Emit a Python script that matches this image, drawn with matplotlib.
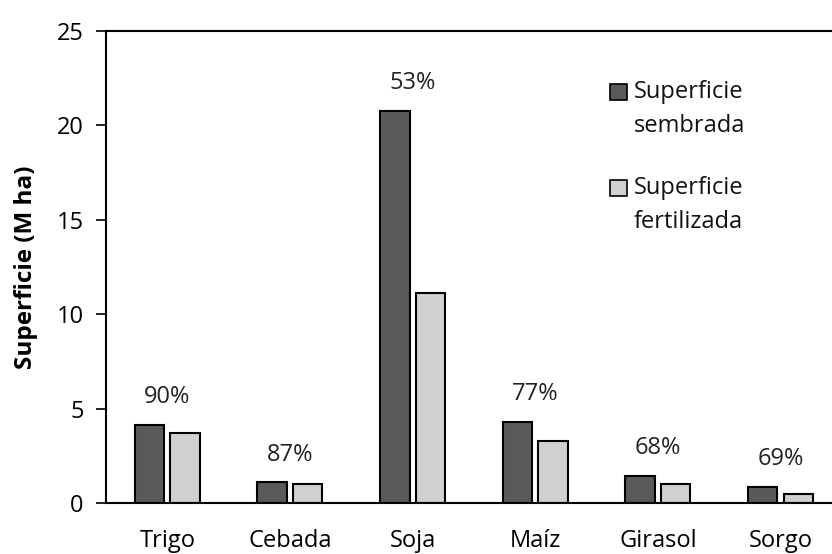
import matplotlib
matplotlib.use("Agg")
import matplotlib.pyplot as plt
from matplotlib.patches import Rectangle
import numpy as np

plt.rcParams['font.family'] = ['Open Sans', 'DejaVu Sans']

cultivos = ["Trigo", "Cebada", "Soja", "Maíz", "Girasol", "Sorgo"]
sembrada = [4.13, 1.09, 20.75, 4.29, 1.43, 0.86]
fertilizada = [3.72, 1.02, 11.1, 3.28, 1.0, 0.49]
porcentajes = ["90%", "87%", "53%", "77%", "68%", "69%"]
series = ["Superficie\nsembrada", "Superficie\nfertilizada"]
colores = ["#595959", "#d0d0d0"]

FS = 17

fig = plt.figure(figsize=(8.32, 5.54), dpi=100)
ax = fig.add_axes([0.1274, 0.092, 0.8726, 0.852])

x = np.arange(len(cultivos))
w = 0.24
ax.bar(x - 0.145, sembrada, w, color=colores[0], edgecolor="black", linewidth=1.5)
ax.bar(x + 0.145, fertilizada, w, color=colores[1], edgecolor="black", linewidth=1.5)

# porcentaje fertilizado sobre cada cultivo
for xi, v, txt in zip(x, sembrada, porcentajes):
    ax.annotate(txt, (xi, v), xytext=(0, 20), textcoords="offset points",
                ha="center", va="center", fontsize=FS, color="#222222")

ax.set_xlim(-0.5, 5.42)
ax.set_ylim(0, 25)
ax.set_yticks([0, 5, 10, 15, 20, 25])
ax.set_xticks(x)
ax.set_xticklabels(cultivos)
ax.tick_params(axis="y", direction="out", length=7, width=1.2, labelsize=FS, pad=9)
ax.tick_params(axis="x", length=0, labelsize=FS, pad=19)
ax.set_ylabel("Superficie (M ha)", fontsize=17.5, fontweight="bold")
ax.yaxis.set_label_coords(-0.093, 0.5)

ax.spines["right"].set_visible(False)
for s in ["left", "top", "bottom"]:
    ax.spines[s].set_linewidth(1.5)

# leyenda: cuadro alineado con la primera linea del texto
W, H = fig.get_size_inches() * fig.dpi
for i, (lab, col) in enumerate(zip(series, colores)):
    ytop = 84 + i * 96
    fig.patches.append(Rectangle((610 / W, 1 - (ytop + 16) / H), 17 / W, 16 / H,
                                 transform=fig.transFigure, facecolor=col,
                                 edgecolor="black", linewidth=1.2))
    fig.text(634 / W, 1 - (ytop - 4) / H, lab, ha="left", va="top",
             fontsize=FS, linespacing=1.55, color="#111111")

fig.savefig("out.png", dpi=100)
